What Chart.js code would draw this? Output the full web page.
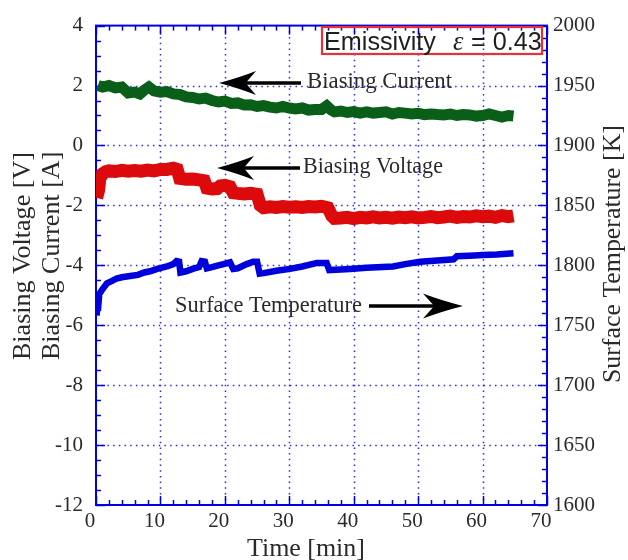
<!DOCTYPE html>
<html>
<head>
<meta charset="utf-8">
<script src="https://cdn.jsdelivr.net/npm/chart.js@4.4.1/dist/chart.umd.min.js"></script>
<style>
html,body{margin:0;padding:0;background:#fff;}
canvas{display:block;}
</style>
</head>
<body>
<canvas id="c" width="628" height="560"></canvas>
<script>
// ---- data ----
const xTickValues = [0, 10, 20, 30, 40, 50, 60, 70];
const leftTickValues = [-12, -10, -8, -6, -4, -2, 0, 2, 4];
const rightTickValues = [1600, 1650, 1700, 1750, 1800, 1850, 1900, 1950, 2000];

const currentTime = [0.3,1,2,3,4,4.5,5,6,6.8,7.5,8.2,9,10,11,12,13,14,15,16,17,18,19,20,21,22,23,24,25,26,27,28,29,30,31,32,33,34,35,35.8,36.5,37,38,39,40,41,42,43,44,45,46,47,48,49,50,51,52,53,54,55,56,57,58,59,60,61,62,63,64,64.8];
const currentAmp  = [2.0,1.95,2.0,1.92,1.95,1.85,1.75,1.78,1.72,1.85,1.95,1.82,1.78,1.8,1.72,1.7,1.62,1.6,1.55,1.58,1.5,1.45,1.48,1.4,1.42,1.35,1.36,1.3,1.33,1.28,1.25,1.3,1.25,1.22,1.25,1.18,1.2,1.2,1.32,1.18,1.12,1.15,1.1,1.13,1.08,1.12,1.08,1.1,1.12,1.05,1.1,1.08,1.05,1.07,1.03,1.05,1.03,1.02,1.05,1.0,1.03,1.02,0.98,1.0,1.05,1.0,0.95,1.0,0.98];

const voltageTime = [0.1,0.4,0.6,1,1.5,2,3,4,5,6,7,8,9,10,11,12,12.6,13,14,15,16,16.8,17.2,18,18.8,19.3,20,20.8,21.3,22,23,24,25,25.5,26,27,28,29,30,31,32,33,34,35,36,36.6,37,38,39,40,41,42,43,44,45,46,47,48,49,50,51,52,53,54,55,56,57,58,59,60,61,62,63,64,64.8];
const voltageVolt = [-1.75,-1.5,-1.1,-0.95,-0.88,-0.85,-0.87,-0.83,-0.86,-0.84,-0.86,-0.82,-0.85,-0.8,-0.8,-0.76,-0.8,-1.1,-1.13,-1.12,-1.15,-1.18,-1.42,-1.45,-1.44,-1.35,-1.33,-1.38,-1.58,-1.6,-1.62,-1.6,-1.63,-2.0,-2.08,-2.05,-2.07,-2.04,-2.06,-2.05,-2.07,-2.04,-2.05,-2.03,-2.08,-2.35,-2.43,-2.42,-2.4,-2.44,-2.4,-2.42,-2.38,-2.42,-2.4,-2.43,-2.39,-2.41,-2.38,-2.42,-2.4,-2.37,-2.41,-2.39,-2.36,-2.4,-2.37,-2.39,-2.35,-2.38,-2.36,-2.4,-2.34,-2.38,-2.35];

const tempTime   = [0.1,0.2,0.3,0.5,1,1.7,2.5,3.2,4,5.3,6.5,7.5,8.4,9.5,11,12,12.5,12.9,13.1,14,15,16,16.4,16.9,17.2,18,19,19.8,20.8,21.3,22,23.4,24.4,25,25.4,26,28,30.1,32,34.3,35.8,36.2,38,39.4,42,46.1,48,50.3,53,55.5,56,58,60,62.2,64.8];
const tempKelvin = [1758,1772,1762,1776,1780,1785,1787,1789,1790,1791,1792,1794,1795,1797,1799,1801,1803.5,1803,1794,1795,1797,1798.5,1803.5,1803,1797.5,1798.5,1800,1801,1802.5,1797,1797.5,1801,1803,1803,1793,1793.5,1795.5,1797,1799,1802,1802,1796,1796.5,1797,1798,1799,1801,1803,1804,1805,1807.5,1808,1808.5,1809,1810];

const toPoints = (xs, ys) => xs.map((x, i) => ({x: x, y: ys[i]}));

const AXIS_BLUE = '#0000e6';
const GRID_BLUE = '#2a2af0';
const TXT = '#2a2a2a';
const SERIF = '"Liberation Serif", "DejaVu Serif", serif';
const SANS = '"Liberation Sans", Arial, sans-serif';

function fitSize(ctx, text, target, family, style) {
  ctx.font = (style || '') + ' 100px ' + family;
  const w = ctx.measureText(text).width;
  return 100 * target / w;
}
function fitFont(ctx, text, target, family, style) {
  return (style || '') + ' ' + fitSize(ctx, text, target, family, style).toFixed(2) + 'px ' + family;
}

function arrow(ctx, tailX, y, tipX, headLen, halfW, shaftW) {
  const dir = tipX < tailX ? 1 : -1;
  const back = tipX + dir * headLen;
  const notch = tipX + dir * headLen * 0.72;
  ctx.save();
  ctx.fillStyle = '#000';
  ctx.strokeStyle = '#000';
  ctx.lineWidth = shaftW;
  ctx.beginPath();
  ctx.moveTo(tailX, y);
  ctx.lineTo(notch, y);
  ctx.stroke();
  ctx.beginPath();
  ctx.moveTo(tipX, y);
  ctx.quadraticCurveTo(tipX + dir * headLen * 0.55, y - halfW * 0.45, back, y - halfW);
  ctx.lineTo(notch, y);
  ctx.lineTo(back, y + halfW);
  ctx.quadraticCurveTo(tipX + dir * headLen * 0.55, y + halfW * 0.45, tipX, y);
  ctx.closePath();
  ctx.fill();
  ctx.restore();
}

const framePlugin = {
  id: 'frame',
  beforeDatasetsDraw(chart) {
    const ctx = chart.ctx;
    const a = chart.chartArea;
    const sx = chart.scales.x, sy = chart.scales.y, sy2 = chart.scales.y2;
    ctx.save();
    ctx.strokeStyle = GRID_BLUE;
    ctx.lineWidth = 1.5;
    ctx.setLineDash([1.5, 4.2]);
    xTickValues.forEach(v => {
      if (v <= sx.min || v >= sx.max) return;
      const px = Math.round(sx.getPixelForValue(v)) + 0.5;
      ctx.beginPath(); ctx.moveTo(px, a.top); ctx.lineTo(px, a.bottom); ctx.stroke();
    });
    leftTickValues.forEach(v => {
      if (v <= sy.min || v >= sy.max) return;
      const py = Math.round(sy.getPixelForValue(v)) + 0.5;
      ctx.beginPath(); ctx.moveTo(a.left, py); ctx.lineTo(a.right, py); ctx.stroke();
    });
    ctx.setLineDash([]);
    ctx.strokeStyle = AXIS_BLUE;
    ctx.lineWidth = 1.5;
    for (let t = sx.min; t <= sx.max + 1e-9; t += 2) {
      const px = Math.round(sx.getPixelForValue(t)) + 0.5;
      const len = (t % 10 === 0) ? 9 : 5;
      ctx.beginPath(); ctx.moveTo(px, a.bottom); ctx.lineTo(px, a.bottom - len); ctx.stroke();
      ctx.beginPath(); ctx.moveTo(px, a.top); ctx.lineTo(px, a.top + len); ctx.stroke();
    }
    for (let v = sy.min; v <= sy.max + 1e-9; v += 0.5) {
      const py = Math.round(sy.getPixelForValue(v)) + 0.5;
      const len = (Math.abs(v % 2) < 1e-9) ? 9 : 5;
      ctx.beginPath(); ctx.moveTo(a.left, py); ctx.lineTo(a.left + len, py); ctx.stroke();
    }
    for (let v = sy2.min; v <= sy2.max + 1e-9; v += 10) {
      const py = Math.round(sy2.getPixelForValue(v)) + 0.5;
      const len = (v % 50 === 0) ? 9 : 5;
      ctx.beginPath(); ctx.moveTo(a.right, py); ctx.lineTo(a.right - len, py); ctx.stroke();
    }
    ctx.lineWidth = 2;
    ctx.strokeRect(a.left, a.top, a.right - a.left, a.bottom - a.top);
    ctx.restore();
  },
  afterDraw(chart) {
    const ctx = chart.ctx;
    ctx.save();
    ctx.fillStyle = TXT;
    ctx.textBaseline = 'alphabetic';
    ctx.textAlign = 'left';

    const lt1 = 'Biasing Voltage [V]', lt2 = 'Biasing Current [A]';
    ctx.font = fitFont(ctx, lt1, 208, SERIF);
    ctx.save(); ctx.translate(30, 360); ctx.rotate(-Math.PI / 2); ctx.fillText(lt1, 0, 0); ctx.restore();
    ctx.save(); ctx.translate(59, 360); ctx.rotate(-Math.PI / 2); ctx.fillText(lt2, 0, 0); ctx.restore();

    const rt = 'Surface Temperature [K]';
    ctx.font = fitFont(ctx, rt, 258, SERIF);
    ctx.save(); ctx.translate(620, 383); ctx.rotate(-Math.PI / 2); ctx.fillText(rt, 0, 0); ctx.restore();

    const xt = 'Time [min]';
    ctx.font = fitFont(ctx, xt, 118, SERIF);
    ctx.fillText(xt, 247, 556);

    ctx.font = fitFont(ctx, 'Biasing Current', 145, SERIF);
    ctx.fillText('Biasing Current', 307, 88);
    arrow(ctx, 301, 83, 219, 37, 12, 3.5);

    ctx.font = fitFont(ctx, 'Biasing Voltage', 140, SERIF);
    ctx.fillText('Biasing Voltage', 303, 173);
    arrow(ctx, 300, 168, 217, 37, 12, 3.5);

    ctx.font = fitFont(ctx, 'Surface Temperature', 187, SERIF);
    ctx.fillText('Surface Temperature', 175, 312);
    arrow(ctx, 369, 306, 463, 40, 12.5, 3.5);

    ctx.strokeStyle = '#e8303a';
    ctx.lineWidth = 2.2;
    ctx.strokeRect(322, 27, 220, 27);
    ctx.fillStyle = '#1e1e1e';
    const es = fitSize(ctx, 'Emissivity', 112, SANS);
    ctx.font = es.toFixed(2) + 'px ' + SANS;
    ctx.fillText('Emissivity', 324, 50);
    ctx.font = 'italic ' + (es * 1.05).toFixed(2) + 'px ' + SERIF;
    ctx.fillText('\u03B5', 453, 50);
    ctx.font = es.toFixed(2) + 'px ' + SANS;
    ctx.fillText('= 0.43', 471, 50);
    ctx.restore();
  }
};

const tickFont = {family: SERIF, size: 21};
const plainNum = v => String(v);

new Chart(document.getElementById('c'), {
  type: 'line',
  data: {
    datasets: [
      {label: 'Surface Temperature', data: toPoints(tempTime, tempKelvin), yAxisID: 'y2',
       borderColor: '#0000dc', borderWidth: 6.5, pointRadius: 0, tension: 0, borderJoinStyle: 'miter'},
      {label: 'Biasing Voltage', data: toPoints(voltageTime, voltageVolt), yAxisID: 'y',
       borderColor: '#dc0a0a', borderWidth: 13, pointRadius: 0, tension: 0, borderJoinStyle: 'miter'},
      {label: 'Biasing Current', data: toPoints(currentTime, currentAmp), yAxisID: 'y',
       borderColor: '#0a5f18', borderWidth: 11, pointRadius: 0, tension: 0, borderJoinStyle: 'miter'}
    ]
  },
  options: {
    responsive: false,
    animation: false,
    layout: {padding: {top: 25, left: 0, right: 0, bottom: 0}},
    plugins: {legend: {display: false}, tooltip: {enabled: false}},
    scales: {
      x: {
        type: 'linear', min: 0, max: 70,
        afterBuildTicks: s => { s.ticks = xTickValues.map(v => ({value: v})); },
        ticks: {font: tickFont, color: TXT, padding: 4, labelOffset: -6, maxRotation: 0, autoSkip: false, callback: plainNum},
        grid: {display: false, drawTicks: false},
        border: {display: false},
        afterFit: s => { s.height = 55; }
      },
      y: {
        type: 'linear', position: 'left', min: -12, max: 4,
        afterBuildTicks: s => { s.ticks = leftTickValues.map(v => ({value: v})); },
        ticks: {font: tickFont, color: TXT, padding: 13, autoSkip: false, callback: plainNum},
        grid: {display: false, drawTicks: false},
        border: {display: false},
        afterFit: s => { s.width = 96; }
      },
      y2: {
        type: 'linear', position: 'right', min: 1600, max: 2000,
        afterBuildTicks: s => { s.ticks = rightTickValues.map(v => ({value: v})); },
        ticks: {font: tickFont, color: TXT, padding: 6, autoSkip: false, callback: plainNum},
        grid: {display: false, drawTicks: false},
        border: {display: false},
        afterFit: s => { s.width = 81; }
      }
    }
  },
  plugins: [framePlugin]
});
</script>
</body>
</html>
